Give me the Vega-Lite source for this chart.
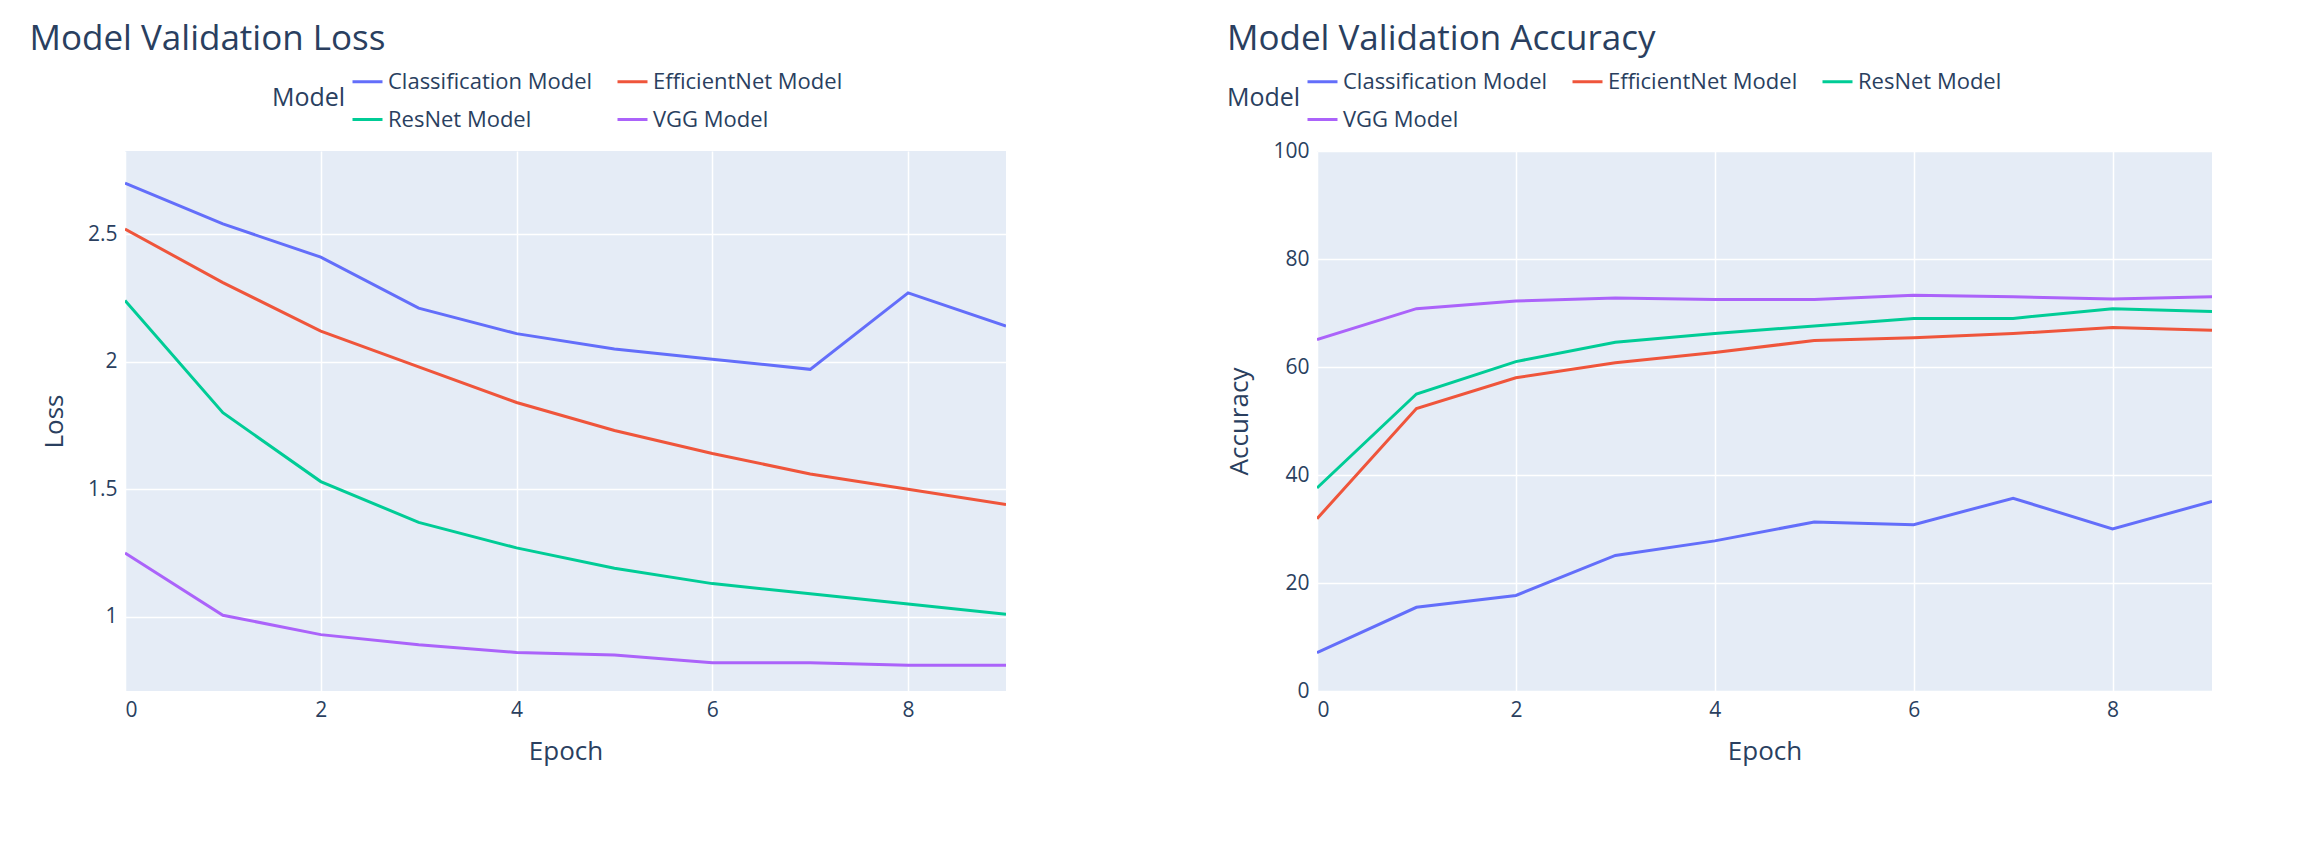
{
  "$schema": "https://vega.github.io/schema/vega-lite/v6.json",
  "background": "white",
  "padding": {"left": 29, "top": 22, "right": 40, "bottom": 10},
  "config": {
    "font": "Open Sans",
    "view": {"fill": "#E5ECF6", "stroke": null},
    "axis": {"domain": false, "ticks": false, "gridColor": "white", "gridWidth": 1.5, "labelColor": "#2a3f5f", "titleColor": "#2a3f5f", "labelFontSize": 21, "titleFontSize": 26, "titleFontWeight": "normal", "labelPadding": 8},
    "title": {"color": "#2a3f5f", "fontSize": 35, "fontWeight": "normal", "anchor": "start"},
    "legend": {"labelColor": "#2a3f5f", "titleColor": "#2a3f5f", "labelFontSize": 22, "titleFontSize": 25, "titleFontWeight": "normal", "labelLimit": 0, "symbolType": "stroke", "symbolStrokeWidth": 3, "symbolSize": 900, "columnPadding": 18, "rowPadding": 10}
  },
  "datasets": {
    "runs": [
      {"epoch": 0, "model": "Classification Model", "loss": 2.70, "acc": 7.1},
      {"epoch": 1, "model": "Classification Model", "loss": 2.54, "acc": 15.5},
      {"epoch": 2, "model": "Classification Model", "loss": 2.41, "acc": 17.7},
      {"epoch": 3, "model": "Classification Model", "loss": 2.21, "acc": 25.1},
      {"epoch": 4, "model": "Classification Model", "loss": 2.11, "acc": 27.8},
      {"epoch": 5, "model": "Classification Model", "loss": 2.05, "acc": 31.3},
      {"epoch": 6, "model": "Classification Model", "loss": 2.01, "acc": 30.8},
      {"epoch": 7, "model": "Classification Model", "loss": 1.97, "acc": 35.7},
      {"epoch": 8, "model": "Classification Model", "loss": 2.27, "acc": 30.0},
      {"epoch": 9, "model": "Classification Model", "loss": 2.14, "acc": 35.1},
      {"epoch": 0, "model": "EfficientNet Model", "loss": 2.52, "acc": 31.9},
      {"epoch": 1, "model": "EfficientNet Model", "loss": 2.31, "acc": 52.3},
      {"epoch": 2, "model": "EfficientNet Model", "loss": 2.12, "acc": 58.0},
      {"epoch": 3, "model": "EfficientNet Model", "loss": 1.98, "acc": 60.8},
      {"epoch": 4, "model": "EfficientNet Model", "loss": 1.84, "acc": 62.7},
      {"epoch": 5, "model": "EfficientNet Model", "loss": 1.73, "acc": 64.9},
      {"epoch": 6, "model": "EfficientNet Model", "loss": 1.64, "acc": 65.4},
      {"epoch": 7, "model": "EfficientNet Model", "loss": 1.56, "acc": 66.2},
      {"epoch": 8, "model": "EfficientNet Model", "loss": 1.50, "acc": 67.3},
      {"epoch": 9, "model": "EfficientNet Model", "loss": 1.44, "acc": 66.8},
      {"epoch": 0, "model": "ResNet Model", "loss": 2.24, "acc": 37.6},
      {"epoch": 1, "model": "ResNet Model", "loss": 1.80, "acc": 55.0},
      {"epoch": 2, "model": "ResNet Model", "loss": 1.53, "acc": 61.0},
      {"epoch": 3, "model": "ResNet Model", "loss": 1.37, "acc": 64.6},
      {"epoch": 4, "model": "ResNet Model", "loss": 1.27, "acc": 66.2},
      {"epoch": 5, "model": "ResNet Model", "loss": 1.19, "acc": 67.6},
      {"epoch": 6, "model": "ResNet Model", "loss": 1.13, "acc": 69.0},
      {"epoch": 7, "model": "ResNet Model", "loss": 1.09, "acc": 69.0},
      {"epoch": 8, "model": "ResNet Model", "loss": 1.05, "acc": 70.8},
      {"epoch": 9, "model": "ResNet Model", "loss": 1.01, "acc": 70.3},
      {"epoch": 0, "model": "VGG Model", "loss": 1.25, "acc": 65.1},
      {"epoch": 1, "model": "VGG Model", "loss": 1.006, "acc": 70.8},
      {"epoch": 2, "model": "VGG Model", "loss": 0.93, "acc": 72.2},
      {"epoch": 3, "model": "VGG Model", "loss": 0.89, "acc": 72.8},
      {"epoch": 4, "model": "VGG Model", "loss": 0.86, "acc": 72.5},
      {"epoch": 5, "model": "VGG Model", "loss": 0.85, "acc": 72.5},
      {"epoch": 6, "model": "VGG Model", "loss": 0.82, "acc": 73.3},
      {"epoch": 7, "model": "VGG Model", "loss": 0.82, "acc": 73.0},
      {"epoch": 8, "model": "VGG Model", "loss": 0.81, "acc": 72.6},
      {"epoch": 9, "model": "VGG Model", "loss": 0.81, "acc": 73.0}
    ]
  },
  "data": {"name": "runs"},
  "spacing": 220,
  "resolve": {"legend": {"color": "independent"}},
  "hconcat": [
    {
      "width": 881,
      "height": 540,
      "title": {"text": "Model Validation Loss", "dx": -12, "offset": 8},
      "mark": {"type": "line", "strokeWidth": 3, "clip": true},
      "encoding": {
        "x": {"field": "epoch", "type": "quantitative", "title": "Epoch", "scale": {"domain": [0, 9], "nice": false}, "axis": {"values": [0, 2, 4, 6, 8], "titlePadding": 18}},
        "y": {"field": "loss", "type": "quantitative", "title": "Loss", "scale": {"domain": [0.709, 2.826], "nice": false, "zero": false}, "axis": {"values": [1, 1.5, 2, 2.5], "format": "~g", "titlePadding": 20}},
        "color": {"field": "model", "type": "nominal", "title": "Model",
          "scale": {"domain": ["Classification Model", "EfficientNet Model", "ResNet Model", "VGG Model"], "range": ["#636efa", "#EF553B", "#00cc96", "#ab63fa"]},
          "legend": {"orient": "none", "legendX": 147, "legendY": -86, "direction": "horizontal", "columns": 2, "titleOrient": "left"}}
      }
    },
    {
      "width": 895,
      "height": 540,
      "title": {"text": "Model Validation Accuracy", "dx": 0, "offset": 8},
      "mark": {"type": "line", "strokeWidth": 3, "clip": true},
      "encoding": {
        "x": {"field": "epoch", "type": "quantitative", "title": "Epoch", "scale": {"domain": [0, 9], "nice": false}, "axis": {"values": [0, 2, 4, 6, 8], "titlePadding": 18}},
        "y": {"field": "acc", "type": "quantitative", "title": "Accuracy", "scale": {"domain": [0, 100], "nice": false}, "axis": {"values": [0, 20, 40, 60, 80, 100], "titlePadding": 20}},
        "color": {"field": "model", "type": "nominal", "title": "Model",
          "scale": {"domain": ["Classification Model", "EfficientNet Model", "ResNet Model", "VGG Model"], "range": ["#636efa", "#EF553B", "#00cc96", "#ab63fa"]},
          "legend": {"orient": "none", "legendX": -90, "legendY": -86, "direction": "horizontal", "columns": 3, "titleOrient": "left"}}
      }
    }
  ]
}
